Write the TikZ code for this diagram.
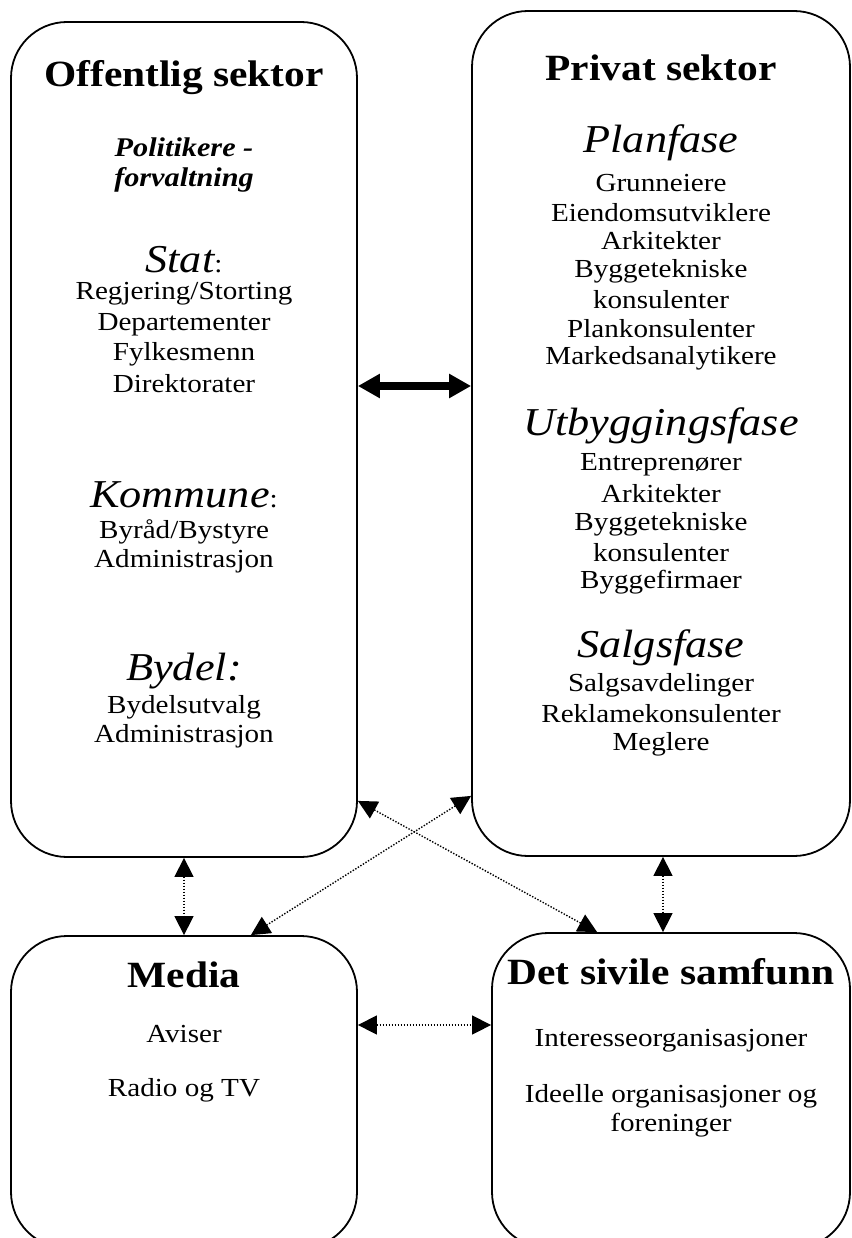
\documentclass[tikz,border=0pt]{standalone}
\usepackage{fontspec}
\setmainfont{Liberation Serif}[FakeStretch=1.12]
\usetikzlibrary{arrows.meta}
\newcommand\fasefont{\fontsize{39.5}{43}\selectfont\itshape}
\tikzset{
	boks/.style={draw, line width=1.8pt, rounded corners=56pt, inner sep=0pt},
	tittel/.style={font=\fontsize{37}{41}\selectfont\bfseries},
	fase/.style={font=\fasefont},
	navn/.style={font=\fontsize{26}{29}\selectfont},
	pol/.style={font=\fontsize{27}{30}\selectfont\bfseries\itshape},
	prikk/.style={line width=1.4pt, dash pattern=on 1.4pt off 1.6pt,
		{Triangle[length=19pt,width=19pt]}-{Triangle[length=19pt,width=19pt]}},
	tykk/.style={line width=8pt,
		{Triangle[length=22pt,width=23pt]}-{Triangle[length=22pt,width=23pt]}}
}

\begin{document}
\begin{tikzpicture}[x=1pt, y=-1pt]
			%%%%% START %%%%%
			\useasboundingbox (0, 0) rectangle (851, 1238);
			
			% the four boxes
			\node[boks, minimum width=346, minimum height=835] (off) at (184, 439.5) {};
			\node[boks, minimum width=378, minimum height=845] (priv) at (661, 433.5) {};
			\node[boks, minimum width=346, minimum height=312] (media) at (184, 1092) {};
			\node[boks, minimum width=358, minimum height=315] (sivil) at (671, 1090.5) {};
			
			% offentlig sektor
			\node[tittel] (offtit) at (184, 78) {Offentlig sektor};
			\node[pol] (pol1) at (184, 147) {Politikere -};
			\node[pol] (pol2) at (184, 180) {forvaltning};
			\node[navn] (stat) at (184, 260) {{\fasefont Stat}:};
			\node[navn] (regj) at (184, 294) {Regjering/Storting};
			\node[navn] (dep) at (184, 325) {Departementer};
			\node[navn] (fylke) at (184, 354) {Fylkesmenn};
			\node[navn] (dir) at (184, 384) {Direktorater};
			\node[navn] (komm) at (184, 495) {{\fasefont Kommune}:};
			\node[navn] (byraad) at (184, 532) {Byråd/Bystyre};
			\node[navn] (adm1) at (184, 561) {Administrasjon};
			\node[fase] (bydel) at (184, 671) {Bydel:};
			\node[navn] (utvalg) at (184, 707) {Bydelsutvalg};
			\node[navn] (adm2) at (184, 736) {Administrasjon};
			
			% privat sektor
			\node[tittel] (privtit) at (661, 68) {Privat sektor};
			\node[fase] (plan) at (661, 143) {Planfase};
			\node[navn] (grunn) at (661, 183) {Grunneiere};
			\node[navn] (eiend) at (661, 213) {Eiendomsutviklere};
			\node[navn] (ark1) at (661, 241) {Arkitekter};
			\node[navn] (bygg1) at (661, 271) {Byggetekniske};
			\node[navn] (kons1) at (661, 300) {konsulenter};
			\node[navn] (plank) at (661, 329) {Plankonsulenter};
			\node[navn] (marked) at (661, 358) {Markedsanalytikere};
			\node[fase] (utb) at (661, 426) {Utbyggingsfase};
			\node[navn] (entr) at (661, 465) {Entreprenører};
			\node[navn] (ark2) at (661, 494) {Arkitekter};
			\node[navn] (bygg2) at (661, 524) {Byggetekniske};
			\node[navn] (kons2) at (661, 553) {konsulenter};
			\node[navn] (firma) at (661, 582) {Byggefirmaer};
			\node[fase] (salg) at (661, 648) {Salgsfase};
			\node[navn] (avd) at (661, 685) {Salgsavdelinger};
			\node[navn] (rekl) at (661, 714) {Reklamekonsulenter};
			\node[navn] (megl) at (661, 744) {Meglere};
			
			% media
			\node[tittel] (medtit) at (184, 975) {Media};
			\node[navn] (aviser) at (184, 1034) {Aviser};
			\node[navn] (radio) at (184, 1090) {Radio og TV};
			
			% det sivile samfunn
			\node[tittel] (sivtit) at (671, 972) {Det sivile samfunn};
			\node[navn] (inter) at (671, 1041) {Interesseorganisasjoner};
			\node[navn] (ideell1) at (671, 1096) {Ideelle organisasjoner og};
			\node[navn] (ideell2) at (671, 1125) {foreninger};
			
			% connectors
			\draw[tykk] ([yshift=-2pt]off.east |- dir) -- ([yshift=-2pt]priv.west |- dir);
			\draw[prikk] (off.south) -- (media.north);
			\draw[prikk] ([xshift=2pt]priv.south) -- ([xshift=-8pt]sivil.north);
			\draw[prikk] ([yshift=67pt]media.east) -- ([yshift=65.5pt]sivil.west);
			\draw[prikk] ([yshift=57pt]off.south east) -- ([xshift=106pt]sivil.north west);
			\draw[prikk] ([yshift=61pt]priv.south west) -- ([xshift=-107pt]media.north east);
			
			%%%%% END %%%%%
\end{tikzpicture}
\end{document}
